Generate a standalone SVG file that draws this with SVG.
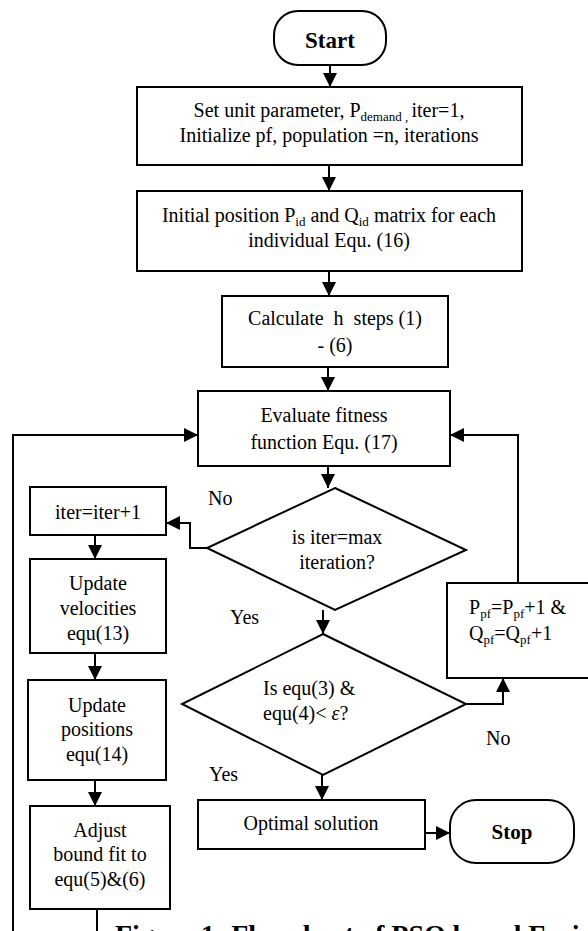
<svg xmlns="http://www.w3.org/2000/svg" width="588" height="931" viewBox="0 0 588 931">
<defs>
<marker id="arr" viewBox="0 0 10 10" refX="10" refY="5" markerWidth="14" markerHeight="14" markerUnits="userSpaceOnUse" orient="auto">
<path d="M0,0 L10,5 L0,10 z" fill="#000"/>
</marker>
</defs>
<style>
.box{fill:#fff;stroke:#000;stroke-width:2}
.t{font-family:"Liberation Serif","Times New Roman",serif;font-size:20px;fill:#000}
.c{text-anchor:middle}
.b{font-weight:bold}
.ln{fill:none;stroke:#000;stroke-width:2}
.sub{font-size:13px}
</style>
<rect width="588" height="931" fill="#fff"/>
<g id="connectors">
<line class="ln" x1="330" y1="65" x2="330" y2="87" marker-end="url(#arr)"/>
<line class="ln" x1="329" y1="165" x2="329" y2="191" marker-end="url(#arr)"/>
<line class="ln" x1="329" y1="271" x2="329" y2="296" marker-end="url(#arr)"/>
<line class="ln" x1="328" y1="367" x2="328" y2="391" marker-end="url(#arr)"/>
<line class="ln" x1="328" y1="466" x2="328" y2="488" marker-end="url(#arr)"/>
<line class="ln" x1="323" y1="610" x2="323" y2="634" marker-end="url(#arr)"/>
<line class="ln" x1="322" y1="775" x2="322" y2="800" marker-end="url(#arr)"/>
<line class="ln" x1="425" y1="833" x2="450" y2="833" marker-end="url(#arr)"/>
<polyline class="ln" points="207,548 190,548 190,523 166,523" marker-end="url(#arr)"/>
<polyline class="ln" points="466,704 503,704 503,678" marker-end="url(#arr)"/>
<polyline class="ln" points="518,583 518,435 450,435" marker-end="url(#arr)"/>
<polyline class="ln" points="13,931 13,435 198,435" marker-end="url(#arr)"/>
<line class="ln" x1="95" y1="535" x2="95" y2="559" marker-end="url(#arr)"/>
<line class="ln" x1="95" y1="653" x2="95" y2="680" marker-end="url(#arr)"/>
<line class="ln" x1="95" y1="780" x2="95" y2="806" marker-end="url(#arr)"/>
<line class="ln" x1="97" y1="909" x2="97" y2="931"/>
<text class="t" x="208" y="505">No</text>
<text class="t" x="230" y="624">Yes</text>
<text class="t" x="486" y="745">No</text>
<text class="t" x="209" y="781">Yes</text>
</g>
<g id="start">
<rect class="box" x="274" y="11" width="112" height="54" rx="24"/>
<text class="t c b" x="330" y="48" style="font-size:23px">Start</text>
</g>
<g id="init">
<rect class="box" x="137" y="87" width="385" height="78"/>
<text class="t c" x="329" y="117">Set unit parameter, P<tspan class="sub" dy="4">demand , </tspan><tspan dy="-4">iter=1,</tspan></text>
<text class="t c" x="329" y="142">Initialize pf, population =n, iterations</text>
</g>
<g id="initpos">
<rect class="box" x="137" y="191" width="385" height="80"/>
<text class="t c" x="329" y="222">Initial position P<tspan class="sub" dy="4">id</tspan><tspan dy="-4"> and Q</tspan><tspan class="sub" dy="4">id</tspan><tspan dy="-4"> matrix for each</tspan></text>
<text class="t c" x="329" y="247">individual Equ. (16)</text>
</g>
<g id="calc">
<rect class="box" x="222" y="296" width="226" height="71"/>
<text class="t c" x="335" y="325" xml:space="preserve">Calculate  h  steps (1)</text>
<text class="t c" x="335" y="352">- (6)</text>
</g>
<g id="evaluate">
<rect class="box" x="198" y="391" width="252" height="75"/>
<text class="t c" x="324" y="422">Evaluate fitness</text>
<text class="t c" x="324" y="449">function Equ. (17)</text>
</g>
<g id="decision1">
<polygon class="box" points="335,488 466,550 335,610 207,548"/>
<text class="t c" x="337" y="544">is iter=max</text>
<text class="t c" x="337" y="569">iteration?</text>
</g>
<g id="decision2">
<polygon class="box" points="323,634 466,704 323,775 182,704"/>
<text class="t" x="263" y="695">Is equ(3) &amp;</text>
<text class="t" x="263" y="720">equ(4)&lt; <tspan font-style="italic">ε</tspan>?</text>
</g>
<g id="update-pf">
<rect class="box" x="447" y="583" width="150" height="95"/>
<text class="t" x="469" y="614">P<tspan class="sub" dy="4">pf</tspan><tspan dy="-4">=P</tspan><tspan class="sub" dy="4">pf</tspan><tspan dy="-4">+1 &amp;</tspan></text>
<text class="t" x="469" y="640">Q<tspan class="sub" dy="4">pf</tspan><tspan dy="-4">=Q</tspan><tspan class="sub" dy="4">pf</tspan><tspan dy="-4">+1</tspan></text>
</g>
<g id="iter">
<rect class="box" x="30" y="487" width="136" height="48"/>
<text class="t c" x="98" y="519">iter=iter+1</text>
</g>
<g id="velocities">
<rect class="box" x="30" y="559" width="136" height="94"/>
<text class="t c" x="98" y="590">Update</text>
<text class="t c" x="98" y="615">velocities</text>
<text class="t c" x="98" y="640">equ(13)</text>
</g>
<g id="positions">
<rect class="box" x="28" y="680" width="138" height="100"/>
<text class="t c" x="97" y="712">Update</text>
<text class="t c" x="97" y="736">positions</text>
<text class="t c" x="97" y="761">equ(14)</text>
</g>
<g id="adjust">
<rect class="box" x="30" y="806" width="140" height="103"/>
<text class="t c" x="100" y="837">Adjust</text>
<text class="t c" x="100" y="861">bound fit to</text>
<text class="t c" x="100" y="886">equ(5)&amp;(6)</text>
</g>
<g id="optimal">
<rect class="box" x="198" y="800" width="227" height="49"/>
<text class="t c" x="311" y="830">Optimal solution</text>
</g>
<g id="stop">
<rect class="box" x="450" y="800" width="124" height="63" rx="26"/>
<text class="t c b" x="512" y="839" style="font-size:21px">Stop</text>
</g>
<text class="t b" x="115" y="944" style="font-size:28px">Figure 1: Flowchart of PSO based Fusion</text>
</svg>
